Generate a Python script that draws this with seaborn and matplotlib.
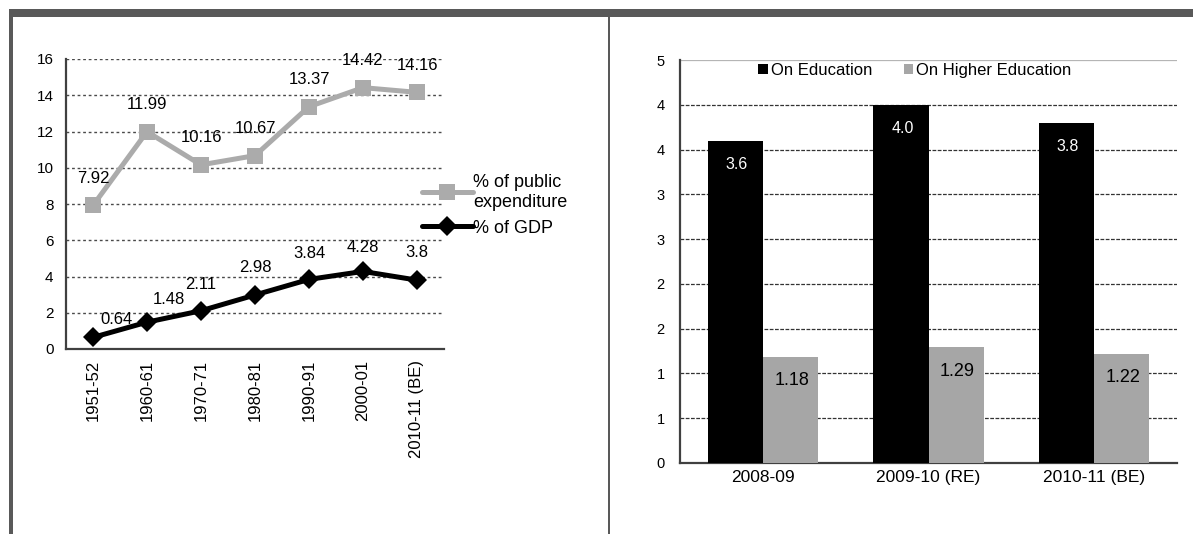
import numpy as np
import pandas as pd
import matplotlib
matplotlib.use("Agg")
import matplotlib.pyplot as plt
from matplotlib.patches import Rectangle
import seaborn as sns

# ---- data: spending on education, India ----
periods = ["1951-52", "1960-61", "1970-71", "1980-81", "1990-91", "2000-01", "2010-11 (BE)"]
pct_public_expenditure = [7.92, 11.99, 10.16, 10.67, 13.37, 14.42, 14.16]
pct_gdp = [0.64, 1.48, 2.11, 2.98, 3.84, 4.28, 3.8]
left_yticks = [0, 2, 4, 6, 8, 10, 12, 14, 16]

years = ["2008-09", "2009-10 (RE)", "2010-11 (BE)"]
on_education = [3.6, 4.0, 3.8]
on_higher_education = [1.18, 1.29, 1.22]
bar_series = ["On Education", "On Higher Education"]
right_ytick_values = [0, 0.5, 1.0, 1.5, 2.0, 2.5, 3.0, 3.5, 4.0, 4.5]
right_ytick_labels = ["0", "1", "1", "2", "2", "3", "3", "4", "4", "5"]

# ---- style ----
sns.set_theme(style="white")
plt.rcParams["font.family"] = ["Liberation Sans", "DejaVu Sans"]
plt.rcParams["text.color"] = "black"
plt.rcParams["xtick.color"] = "black"
plt.rcParams["ytick.color"] = "black"

GREY_LINE = "#ababab"
GREY_BAR = "#a6a6a6"
SPINE = "#404040"
FRAME = "#595959"

W, H = 1193, 534
fig = plt.figure(figsize=(W / 100, H / 100), dpi=100)
fig.patch.set_facecolor("white")


def px_box(x0, y0, x1, y1):
    """Figure-fraction rectangle from pixel corners (origin top-left)."""
    return [x0 / W, 1 - y1 / H, (x1 - x0) / W, (y1 - y0) / H]


# outer frame: top band, left edge and the divider between panels
for x0, y0, x1, y1 in [(9, 9, W, 17), (9, 9, 13, H), (608, 9, 610, H)]:
    b = px_box(x0, y0, x1, y1)
    fig.patches.append(Rectangle((b[0], b[1]), b[2], b[3], transform=fig.transFigure,
                                 facecolor=FRAME, edgecolor="none", zorder=0))

# ================= left panel: line chart =================
ax1 = fig.add_axes(px_box(66, 59, 444, 349))
xpos = np.arange(len(periods))

sns.lineplot(x=xpos, y=pct_public_expenditure, ax=ax1, color=GREY_LINE, linewidth=3.6,
             marker="s", markersize=11.5, markeredgewidth=0, sort=False,
             label="% of public\nexpenditure", zorder=3)
sns.lineplot(x=xpos, y=pct_gdp, ax=ax1, color="black", linewidth=3.6,
             marker="D", markersize=10, markeredgewidth=0, sort=False,
             label="% of GDP", zorder=4)

ax1.set_xlim(-0.5, len(periods) - 0.5)
ax1.set_ylim(0, 16)
ax1.set_yticks(left_yticks)
ax1.set_yticklabels([str(v) for v in left_yticks], fontsize=11)
ax1.set_xticks(xpos)
ax1.set_xticklabels(periods, rotation=90, fontsize=12, va="top")
ax1.set_xticks(np.arange(-0.5, len(periods)), minor=True)
ax1.tick_params(axis="x", which="major", length=0, pad=8)
ax1.tick_params(axis="x", which="minor", length=5, width=1.3, color=SPINE, direction="out")
ax1.tick_params(axis="y", which="major", length=3, width=1.3, color=SPINE, direction="out", pad=6)
ax1.yaxis.grid(True, color="#4a4a4a", linestyle=(0, (2, 2)), linewidth=1.0)
ax1.set_axisbelow(True)
for s in ["top", "right"]:
    ax1.spines[s].set_visible(False)
for s in ["left", "bottom"]:
    ax1.spines[s].set_color(SPINE)
    ax1.spines[s].set_linewidth(1.6)
ax1.set_xlabel("")
ax1.set_ylabel("")

# value labels
for x, v in zip(xpos, pct_public_expenditure):
    ax1.annotate(f"{v:g}", (x, v), xytext=(0, 19.5), textcoords="offset points",
                 ha="center", va="center", fontsize=12, zorder=6)
gdp_offsets = [(17, 13), (16, 16), (0, 19), (0, 20), (0, 19), (0, 17), (0, 20)]
for x, v, off in zip(xpos, pct_gdp, gdp_offsets):
    ax1.annotate(f"{v:g}", (x, v), xytext=off, textcoords="offset points",
                 ha="center", va="center", fontsize=12, zorder=6)

leg1 = ax1.legend(loc="upper left", bbox_to_anchor=(422 / W, 1 - 174 / H),
                  bbox_transform=fig.transFigure, frameon=False, fontsize=13,
                  handlelength=2.8, handletextpad=0.05, borderpad=0, borderaxespad=0,
                  labelspacing=0.5)
leg1.set_zorder(7)

# ================= right panel: bar chart =================
ax2 = fig.add_axes(px_box(680, 60, 1177, 463))
df_bars = pd.DataFrame({
    "year": years * 2,
    "value": on_education + on_higher_education,
    "series": [bar_series[0]] * len(years) + [bar_series[1]] * len(years),
})
sns.barplot(data=df_bars, x="year", y="value", hue="series", hue_order=bar_series,
            palette=["black", GREY_BAR], saturation=1, width=0.664, linewidth=0,
            edgecolor="none", ax=ax2, zorder=3)

ax2.set_xlim(-0.5, len(years) - 0.5)
ax2.set_ylim(0, 4.5)
ax2.set_yticks(right_ytick_values)
ax2.set_yticklabels(right_ytick_labels, fontsize=10.5)
ax2.set_xticks(np.arange(len(years)))
ax2.set_xticklabels(years, fontsize=12.5)
ax2.set_xticks(np.arange(-0.5, len(years)), minor=True)
ax2.tick_params(axis="x", which="major", length=0, pad=5)
ax2.tick_params(axis="x", which="minor", length=6, width=1.3, color=SPINE, direction="out")
ax2.tick_params(axis="y", which="major", length=3, width=1.3, color=SPINE, direction="out", pad=8)
ax2.yaxis.grid(True, color="#333333", linestyle=(0, (3, 1.2)), linewidth=0.9)
ax2.xaxis.grid(False)
ax2.set_axisbelow(True)
glines = ax2.get_ygridlines()
glines[0].set_visible(False)
glines[-1].set_color("#b5b5b5")
glines[-1].set_linestyle("-")
for s in ["top", "right"]:
    ax2.spines[s].set_visible(False)
for s in ["left", "bottom"]:
    ax2.spines[s].set_color(SPINE)
    ax2.spines[s].set_linewidth(1.6)
ax2.set_xlabel("")
ax2.set_ylabel("")

# labels inside the bars
label_styles = [("{:.1f}", "white", 11.5), ("{:.2f}", "black", 13)]
for container, (fmt, col, fs) in zip(ax2.containers, label_styles):
    for patch in container.patches:
        h = patch.get_height()
        ax2.annotate(fmt.format(h), (patch.get_x() + patch.get_width() / 2, h),
                     xytext=(1, -17), textcoords="offset points", ha="center", va="center",
                     color=col, fontsize=fs, zorder=6)

old = ax2.get_legend()
handles = old.legend_handles
labels = [t.get_text() for t in old.get_texts()]
old.remove()
ax2.legend(handles, labels, loc="upper center", bbox_to_anchor=(915 / W, 1 - 63 / H),
           bbox_transform=fig.transFigure, ncol=2, frameon=False, fontsize=12,
           handlelength=0.55, handleheight=0.55, handletextpad=0.2, columnspacing=1.9,
           borderpad=0, borderaxespad=0)

fig.savefig("out.png", dpi=100, facecolor="white")
